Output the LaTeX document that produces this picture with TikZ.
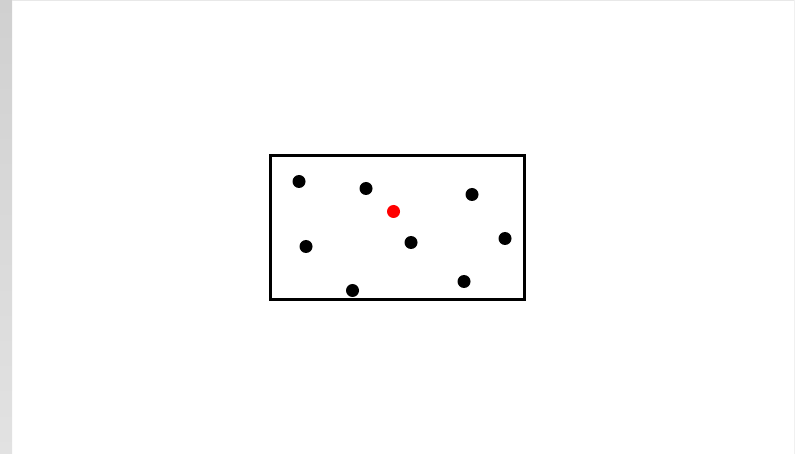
\documentclass[tikz,border=0pt]{standalone}
\begin{document}
\begin{tikzpicture}[x=1pt,y=-1pt,
  dot/.style={circle,fill=black,inner sep=0pt,minimum size=13pt},
  reddot/.style={circle,fill=red,inner sep=0pt,minimum size=13pt},
  frame/.style={draw=black,line width=3pt}]
\useasboundingbox (0,0) rectangle (795,454);
\fill[white] (0,0) rectangle (795,454);
\shade[top color={rgb,255:red,208;green,208;blue,208},bottom color={rgb,255:red,226;green,226;blue,226}] (0,0) rectangle (12,454);
\draw[line width=1pt,draw={rgb,255:red,232;green,232;blue,232}] (12,0.5) -- (795,0.5);
\draw[line width=1pt,draw={rgb,255:red,240;green,240;blue,240}] (794.5,0) -- (794.5,454);
\draw[frame] (270.5,155.5) rectangle (524.5,299.5);
\node[dot] (d1) at (299,181.5) {};
\node[dot] (d2) at (366,188.5) {};
\node[dot] (d3) at (472,194.5) {};
\node[reddot] (r) at (393.5,211.5) {};
\node[dot] (d4) at (306,246.5) {};
\node[dot] (d5) at (411,242.5) {};
\node[dot] (d6) at (505,238.5) {};
\node[dot] (d7) at (352.5,290.5) {};
\node[dot] (d8) at (464,281.5) {};
\end{tikzpicture}
\end{document}
